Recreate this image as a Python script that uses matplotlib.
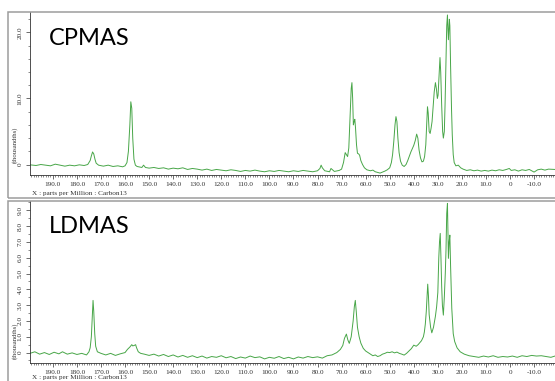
"""Solid-state 13C NMR spectra, CPMAS (top) vs LDMAS (bottom), JEOL-style printout."""
import matplotlib
matplotlib.use("Agg")
import matplotlib.pyplot as plt
from matplotlib.patches import Rectangle
from matplotlib.ticker import MultipleLocator, FuncFormatter

# CPMAS trace (ppm, thousandths)
CP_PPM = [199.5, 197, 195, 193, 191, 189, 187, 185, 183, 181, 179, 177, 175.5,
          174.5, 174.0, 173.5, 173.0, 172.5, 172.0, 171.0, 169, 167, 165, 163, 161,
          160, 159.2, 158.6, 158.0, 157.6, 157.2, 156.8, 156.3, 155.7, 155, 153,
          152.3, 151.5, 150, 148, 146, 144, 142, 140, 138, 136, 134, 132, 130, 128,
          126, 124, 122, 120, 118, 116, 114, 112, 110, 108, 106, 104, 102, 100, 98,
          96, 94, 92, 90, 88, 86, 84, 82, 80, 79, 78.5, 78, 77, 75, 74.4, 73, 71,
          70, 69.2, 68.5, 68.0, 67.5, 67.0, 66.5, 66.0, 65.7, 65.4, 65.1, 64.8,
          64.5, 64.2, 63.8, 63.4, 62.9, 62.5, 62.0, 61.3, 60.5, 59.5, 58, 57, 56,
          55, 54, 53, 52, 51, 50, 49.3, 48.8, 48.3, 47.8, 47.4, 47.0, 46.6, 46.1,
          45.5, 44.8, 44.0, 43.2, 42.5, 41.8, 41.2, 40.5, 40.0, 39.4, 38.8, 38.3,
          37.8, 37.2, 36.6, 36.0, 35.5, 35.0, 34.6, 34.3, 34.0, 33.6, 33.2, 32.8,
          32.4, 32.0, 31.5, 31.0, 30.6, 30.2, 29.9, 29.5, 29.1, 28.8, 28.4, 28.0,
          27.7, 27.3, 27.0, 26.6, 26.3, 26.0, 25.8, 25.6, 25.4, 25.2, 25.0, 24.7,
          24.3, 24.0, 23.6, 23.2, 22.5, 21.5, 20.5, 19.5, 18, 16.5, 15, 13.5, 12,
          10.5, 9, 7.5, 6, 4.5, 3, 1.5, 0.3, -0.5, -2, -3.5, -5, -6.5, -8, -10,
          -11.5, -13, -14.5, -16, -18.7]
CP_INT = [-0.05, -0.15, 0.0, -0.1, -0.2, 0.05, -0.1, -0.25, -0.1, -0.2, -0.05, -0.15, 0.0,
          0.6, 1.3, 1.9, 1.6, 0.8, 0.2, -0.1, -0.25, -0.1, -0.3, -0.2, -0.35,
          -0.2, 0.3, 2.0, 6.0, 9.5, 8.5, 4.0, 0.8, -0.1, -0.3, -0.45,
          -0.1, -0.45, -0.55, -0.45, -0.6, -0.5, -0.7, -0.55, -0.65, -0.5, -0.75, -0.6, -0.7, -0.85,
          -0.7, -0.9, -0.75, -0.85, -0.95, -0.8, -0.9, -1.05, -0.9, -1.0, -0.85, -1.0, -1.1, -0.95, -1.05,
          -0.9, -1.0, -1.1, -0.95, -1.05, -0.9, -1.0, -1.1, -0.95, -0.6, -0.1, -0.5, -0.95, -1.1, -0.6, -1.05, -0.9,
          -0.7, 0.3, 1.8, 1.5, 1.2, 2.5, 7.0, 11.5, 12.4, 10.0, 6.0, 6.5,
          6.85, 5.5, 3.0, 1.7, 1.6, 1.4, 0.6, 0.0, -0.5, -0.8, -0.95, -0.85, -1.1,
          -1.2, -1.3, -1.15, -1.0, -0.8, -0.5, 0.3, 1.5, 3.5, 6.0, 7.25, 6.5, 4.0, 1.8,
          0.5, -0.1, -0.3, 0.0, 0.6, 1.3, 1.9, 2.5, 2.9, 3.6, 4.6, 4.0,
          2.2, 1.0, 0.4, 0.5, 1.2, 3.0, 6.5, 8.75, 7.8, 5.0, 4.7, 5.5,
          6.5, 8.5, 11.0, 12.4, 11.5, 10.0, 10.5, 13.5, 16.2, 14.0, 9.0, 5.0,
          4.0, 5.0, 9.0, 16.0, 21.0, 22.65, 20.5, 18.9, 20.5, 22.0, 21.0, 15.0,
          8.3, 4.5, 1.5, 0.3, -0.2, -0.1, -0.5, -0.7, -0.9, -0.8, -0.95, -0.85, -1.0,
          -0.9, -1.0, -0.85, -0.95, -0.8, -0.9, -0.75, -0.6, -0.9, -0.8, -1.0, -0.8, -0.9, -0.75, -1.15,
          -0.8, -0.7, -0.85, -0.7, -0.75]

# LDMAS trace
LD_PPM = [199.5, 197.5, 195.5, 193.5, 191.5, 189.5, 187.5, 186, 184, 182, 180, 178,
          176, 175, 174.5, 174.0, 173.6, 173.3, 173.0, 172.6, 172.2, 171.5, 170,
          168, 166, 164, 162, 160, 159, 158, 157.2, 156.8, 156.2, 155.6, 155.2,
          154.5, 153.5, 152, 150, 148, 146, 144, 142, 140, 138, 136, 134, 132, 130,
          128, 126, 124, 122, 120, 118, 116, 114, 112, 110, 108, 106, 104, 102,
          100, 98, 96, 94, 92, 90, 88, 86, 84, 82, 80, 78, 76, 74, 72, 70.5, 69.5,
          68.8, 68.0, 67.4, 66.8, 66.0, 65.2, 64.7, 64.3, 63.9, 63.4, 62.7, 62.0,
          61.0, 60.0, 59.0, 58, 57, 56, 55, 54, 53, 52, 51, 50, 49, 48, 47, 46, 45,
          44, 43, 42, 41, 40, 39, 38.2, 37.5, 36.8, 36.0, 35.6, 35.2, 34.8, 34.5,
          34.2, 33.9, 33.6, 33.0, 32.5, 31.8, 31.0, 30.5, 30.0, 29.6, 29.3, 29.0,
          28.7, 28.4, 28.1, 27.7, 27.3, 26.9, 26.6, 26.3, 26.0, 25.8, 25.6, 25.3,
          25.0, 24.7, 24.2, 23.6, 23.0, 22.0, 20.7, 19, 17, 15, 13, 11, 9, 7, 5, 3,
          1, -1, -3, -5, -7, -9, -11, -13, -15, -17, -18.7]
LD_INT = [-0.05, 0.05, -0.1, 0.0, -0.12, 0.02, -0.08, 0.05, -0.1, -0.02, -0.12, -0.05,
          -0.15, 0.05, 0.3, 1.0, 2.3, 3.3, 2.6, 1.2, 0.4, 0.05, -0.05,
          -0.15, -0.05, -0.18, -0.08, 0.0, 0.2, 0.35, 0.5, 0.42, 0.45, 0.5, 0.3,
          0.05, -0.05, -0.1, -0.18, -0.1, -0.22, -0.12, -0.25, -0.15, -0.28, -0.18, -0.3, -0.2, -0.32,
          -0.22, -0.35, -0.25, -0.3, -0.2, -0.33, -0.25, -0.38, -0.28, -0.35, -0.22, -0.32, -0.27, -0.4,
          -0.3, -0.36, -0.25, -0.38, -0.3, -0.4, -0.28, -0.35, -0.25, -0.32, -0.27, -0.35, -0.2, -0.15, 0.0, 0.2, 0.45,
          0.9, 1.17, 0.8, 0.58, 1.0, 2.0, 2.9, 3.3, 2.6, 1.6, 1.0, 0.6,
          0.27, 0.1, 0.0, -0.1, -0.2, -0.15, -0.25, -0.2, -0.1, -0.05, 0.02, 0.0, 0.05, -0.02, 0.03, -0.05, -0.1,
          -0.16, -0.05, 0.1, 0.25, 0.47, 0.4, 0.5, 0.62, 0.75, 1.0, 1.3, 1.8, 2.6, 3.5,
          4.33, 3.6, 2.4, 1.6, 1.25, 1.6, 2.3, 2.9, 3.8, 6.0, 7.0, 7.54,
          6.0, 4.2, 3.0, 2.37, 3.5, 5.0, 6.5, 8.8, 9.44, 7.5, 5.96, 7.0,
          7.43, 5.5, 2.8, 1.2, 0.7, 0.3, 0.05, -0.1, -0.2, -0.25, -0.3, -0.22, -0.28, -0.2, -0.3, -0.25,
          -0.28, -0.22, -0.3, -0.2, -0.25, -0.18, -0.22, -0.2, -0.25, -0.3, -0.22]

PANEL_NAMES = ["CPMAS", "LDMAS"]
X_LABEL = "X : parts per Million : Carbon13"
Y_LABEL = "(thousandths)"

LINE = "#48a648"
FRAME = "#9c9c9c"
W, H = 555, 381


def _fx(px):
    return px / W


def _fy(py):
    return 1 - py / H


def _fmt(v, _pos):
    return "0" if abs(v) < 1e-9 else f"{v:.1f}"


def _panel(fig, rect, ppm, inten, ylim, ymaj, ymin, name, name_y, ylab_y):
    ax = fig.add_axes(rect)
    ax.patch.set_alpha(0)
    ax.plot(ppm, inten, color=LINE, lw=0.7)
    ax.set_xlim(199.5, -18.7)
    ax.set_ylim(*ylim)
    for s in ("top", "right"):
        ax.spines[s].set_visible(False)
    for s in ("left", "bottom"):
        ax.spines[s].set_linewidth(0.6)
        ax.spines[s].set_color("#333333")
    ax.xaxis.set_major_locator(MultipleLocator(10))
    ax.xaxis.set_minor_locator(MultipleLocator(1))
    ax.yaxis.set_major_locator(MultipleLocator(ymaj))
    ax.yaxis.set_minor_locator(MultipleLocator(ymin))
    ax.xaxis.set_major_formatter(FuncFormatter(_fmt))
    ax.yaxis.set_major_formatter(FuncFormatter(_fmt))
    ax.tick_params(which="major", length=3, width=0.5, color="#333333",
                   labelsize=5.2, labelcolor="#333333", pad=2.2,
                   labelfontfamily="Liberation Serif")
    ax.tick_params(which="minor", length=1.6, width=0.4, color="#333333")
    for lab in ax.get_yticklabels():
        lab.set_rotation(90)
        lab.set_va("center")
    fig.text(_fx(15), _fy(ylab_y), Y_LABEL, rotation=90, ha="center", va="center",
             fontsize=4.8, family="Liberation Serif", color="#333333")
    fig.text(_fx(49), _fy(name_y), name, fontsize=17, family="Lato",
             color="black", va="baseline")
    return ax


def main():
    fig = plt.figure(figsize=(W / 100, H / 100), dpi=100)

    # panel frames
    fig.add_artist(Rectangle((_fx(8), _fy(198)), 1.1, _fy(12) - _fy(198),
                             transform=fig.transFigure, fill=False,
                             ec=FRAME, lw=1.1))
    fig.add_artist(Rectangle((_fx(8), -0.2), 1.1, _fy(201) + 0.2,
                             transform=fig.transFigure, fill=False,
                             ec=FRAME, lw=1.1))

    top = [_fx(30), _fy(175), 1 - _fx(30), _fy(12) - _fy(175)]
    _panel(fig, top, CP_PPM, CP_INT, (-1.59, 23.1), 10, 2,
           PANEL_NAMES[0], 45, 145)
    fig.text(_fx(32), _fy(194), X_LABEL, fontsize=5.2, family="Liberation Serif",
             color="#333333", va="center")

    bot = [_fx(30), _fy(363), 1 - _fx(30), _fy(201) - _fy(363)]
    _panel(fig, bot, LD_PPM, LD_INT, (-0.66, 9.59), 1, 0.5,
           PANEL_NAMES[1], 233, 341)
    fig.text(_fx(32), _fy(378), X_LABEL, fontsize=5.2, family="Liberation Serif",
             color="#333333", va="center")

    fig.savefig("out.png", dpi=100)


if __name__ == "__main__":
    main()
